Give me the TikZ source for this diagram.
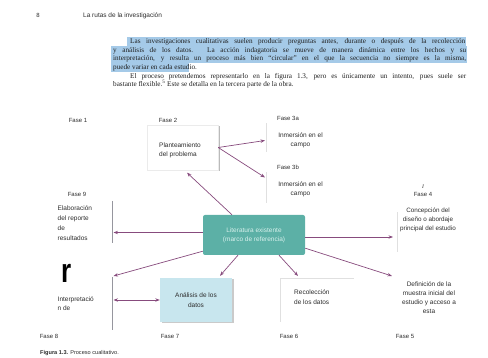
\documentclass[tikz,border=0pt]{standalone}
\usepackage{fontspec}
\setmainfont{Liberation Serif}
\setsansfont{Liberation Sans}
\usetikzlibrary{arrows.meta,shadows}
\definecolor{arrc}{RGB}{135,75,125}
\definecolor{tealc}{RGB}{92,176,166}
\definecolor{tealtxt}{RGB}{215,240,236}
\definecolor{lbox}{RGB}{200,230,238}
\definecolor{hlc}{RGB}{165,202,232}
\definecolor{txt}{RGB}{45,45,45}
\definecolor{edge}{RGB}{150,150,158}
\newcommand\fsz[2]{\fontsize{#1}{#2}\selectfont}
\begin{document}
\begin{tikzpicture}[x=1pt,y=-1pt,
  lab/.style={font=\sffamily\fsz{6}{9}, text=txt, inner sep=0pt},
  body/.style={font=\sffamily\fsz{6.5}{9.2}, text=txt, inner sep=0pt},
  arr/.style={draw=arrc, line width=0.7pt, -{Stealth[length=4.5pt,width=3.4pt]}},
  darr/.style={draw=arrc, line width=0.7pt, {Stealth[length=4.5pt,width=3.4pt]}-{Stealth[length=4.5pt,width=3.4pt]}},
  greyline/.style={draw=edge, line width=1.1pt},
  faint/.style={draw=black!12, line width=0.6pt},
  partext/.style={font=\fsz{7.2}{8.7}, inner sep=0pt, text=black!88},
  hl/.style={fill=hlc}]
\useasboundingbox (0,0) rectangle (488,358);

% header
\node[font=\sffamily\fsz{6}{7}, text=txt, inner sep=0pt, anchor=base] (pg) at (38,17.5) {8};
\node[font=\sffamily\fsz{6.5}{8}, text=txt, inner sep=0pt, anchor=base west] (run) at (83,17.5) {La rutas de la investigación};

% highlights
\fill[hl] (127,37) rectangle (466,45.7);
\fill[hl] (111,45.7) rectangle (467,54.4);
\fill[hl] (111,54.4) rectangle (467,63.1);
\fill[hl] (111,63.1) rectangle (189,71.8);

% paragraph
\node[partext, anchor=base west] (l1) at (130,43.5) {\makebox[335pt][s]{Las investigaciones cualitativas suelen producir preguntas antes, durante o después de la recolección}};
\node[partext, anchor=base west] (l2) at (113,52.2) {\makebox[353pt][s]{y análisis de los datos. La acción indagatoria se mueve de manera dinámica entre los hechos y su}};
\node[partext, anchor=base west] (l3) at (113,60.9) {\makebox[353pt][s]{interpretación, y resulta un proceso más bien ``circular'' en el que la secuencia no siempre es la misma,}};
\node[partext, anchor=base west] (l4) at (113,69.6) {puede variar en cada estudio.};
\node[partext, anchor=base west] (l5) at (130,78.3) {\makebox[336pt][s]{El proceso pretendemos representarlo en la figura 1.3, pero es únicamente un intento, pues suele ser}};
\node[partext, anchor=base west] (l6) at (113,87) {bastante flexible.\textsuperscript{5} Este se detalla en la tercera parte de la obra.};

% faint box edges
\draw[faint] (266,123) -- (266,152);
\draw[faint] (266,172) -- (266,203);
\draw[faint] (397,212) -- (397,252);
\draw[faint] (280,322) -- (280,278) -- (354,278);
\draw[greyline] (112.5,201) -- (112.5,243);
\draw[greyline] (112.5,277) -- (112.5,330);

% boxes
\node[fill=white, draw=black!8, minimum width=71pt, minimum height=45pt, inner sep=0pt,
      drop shadow={shadow xshift=1.5pt, shadow yshift=-1.5pt, fill=black!45, opacity=0.6}] (plan) at (182.5,147.5) {};
\node[fill=tealc, rounded corners=2pt, minimum width=102pt, minimum height=40pt, inner sep=0pt,
      font=\sffamily\fsz{6.5}{9.2}, text=tealtxt, align=center] (lit) at (254,235) {Literatura existente\\(marco de referencia)};
\node[fill=lbox, minimum width=72pt, minimum height=44pt, inner sep=0pt,
      drop shadow={shadow xshift=1.5pt, shadow yshift=-1.5pt, fill=black!35, opacity=0.6},
      font=\sffamily\fsz{6.5}{9.5}, text=txt, align=center] (anal) at (196,300) {Análisis de los\\datos};

% texts
\node[lab, anchor=base] (f1) at (78,122.5) {Fase 1};
\node[lab, anchor=base] (f2) at (168,122.5) {Fase 2};
\node[lab, anchor=base west] (f3a) at (277,121) {Fase 3a};
\node[body, anchor=north west, align=left] (tplan) at (159,142.7) {Planteamiento\\del problema};
\node[body, anchor=north, align=center] (t3a) at (300.5,132.7) {Inmersión en el\\campo};
\node[lab, anchor=base west] (f3b) at (277,169.5) {Fase 3b};
\node[body, anchor=north, align=center] (t3b) at (300.5,181.7) {Inmersión en el\\campo};
\node[lab, anchor=base] (f9) at (77,196.5) {Fase 9};
\node[body, anchor=north west, align=left, font=\sffamily\fsz{6.5}{9.8}] (t9) at (57.5,205.7) {Elaboración\\del reporte\\de\\resultados};
\node[font=\itshape\fsz{5.5}{6}, text=txt, inner sep=0pt, anchor=base] (fi) at (423,189) {I};
\node[lab, anchor=base] (f4) at (423,196.5) {Fase 4};
\node[body, anchor=north, align=center, font=\sffamily\fsz{6.3}{9}] (t4) at (428,207.3) {Concepción del\\diseño o abordaje\\principal del estudio};
\node[inner sep=0pt, anchor=base west] (bigr) at (61,283) {\scalebox{1}[1.3]{\sffamily\bfseries\fontsize{26}{26}\selectfont r}};
\node[body, anchor=north west, align=left, font=\sffamily\fsz{6.5}{9.5}] (t8) at (57.5,296.2) {Interpretació\\n de};
\node[body, anchor=north west, align=left, font=\sffamily\fsz{6.5}{9.8}] (t6) at (294,289.7) {Recolección\\de los datos};
\node[body, anchor=north, align=center, font=\sffamily\fsz{6.5}{9}] (t5) at (429,281.2) {Definición de la\\muestra inicial del\\estudio y acceso a\\esta};
\node[lab, anchor=base] (f8) at (49,339) {Fase 8};
\node[lab, anchor=base] (f7) at (170,339) {Fase 7};
\node[lab, anchor=base] (f6) at (289,339) {Fase 6};
\node[lab, anchor=base] (f5) at (405,339) {Fase 5};
\node[font=\sffamily\fsz{5.6}{7}, text=txt, inner sep=0pt, anchor=base west] (cap) at (40,355) {\textbf{Figura 1.3.} Proceso cualitativo.};

% arrow end points
\coordinate (e3a) at (265,140.5);
\coordinate (e3b) at (265,177.5);
\coordinate (e9) at (113.5,232.5);
\coordinate (e8) at (113.5,276);
\coordinate (e8b) at (113.5,300);
\coordinate (e4) at (393,237);
\coordinate (e5) at (392,276);
\coordinate (e6) at (298,276);

% arrows
\draw[arr] (plan.east) -- (e3a);
\draw[arr] (plan.east) -- (e3b);
\draw[arr] ([xshift=-22pt]lit.north) -- ([xshift=4.5pt,yshift=-2.5pt]plan.south);
\draw[arr] ([yshift=2.5pt]lit.west) -- (e9);
\draw[arr] ([yshift=-2pt]lit.east) -- (e4);
\draw[arr] ([yshift=4pt]lit.south west) -- (e8);
\draw[arr] ([xshift=-16pt]lit.south) -- ([xshift=24pt,yshift=2pt]anal.north);
\draw[arr] ([xshift=25pt]lit.south) -- (e6);
\draw[arr] ([yshift=7pt]lit.south east) -- (e5);
\draw[darr] (e8b) -- (anal.west);
\end{tikzpicture}
\end{document}
